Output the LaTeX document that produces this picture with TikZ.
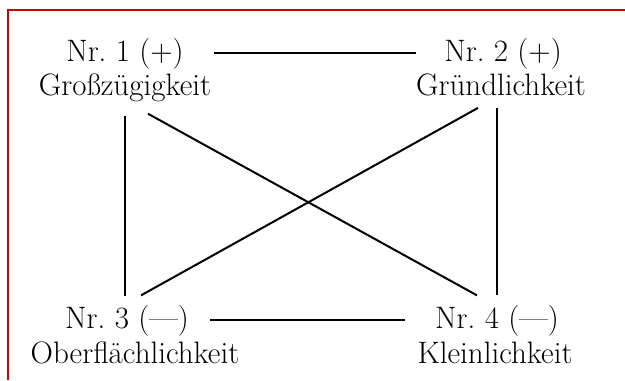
\documentclass[tikz,border=0pt]{standalone}
\usepackage{tikz}
\usetikzlibrary{positioning}
\definecolor{FrameRed}{RGB}{204,0,0}

\begin{document}
\begin{tikzpicture}[x=0.5pt,y=-0.5pt,every node/.style={font=\fontsize{15.5}{18}\selectfont,inner sep=0pt,anchor=base},
  link/.style={line width=1pt}]
\useasboundingbox (0,0) rectangle (625,380);
\draw[FrameRed,line width=1pt] (625,10) -- (8,10) -- (8,380);
\node (t1) at (125,61) {Nr.~1 (+)};
\node (l1) at (125,95) {Großzügigkeit};
\node (t2) at (503,61) {Nr.~2 (+)};
\node (l2) at (501,95) {Gründlichkeit};
\node (t3) at (127,328) {Nr.~3 (---)};
\node (l3) at (135,363) {Oberflächlichkeit};
\node (t4) at (497,328) {Nr.~4 (---)};
\node (l4) at (495,363) {Kleinlichkeit};
\draw[link,shorten <=15pt,shorten >=14pt] (t1) -- (t2);
\draw[link,shorten <=10.5pt,shorten >=15pt] (t3) -- (t4);
\draw[link,shorten <=7pt,shorten >=4pt] (l1.south) -- (l1.south |- t3.north);
\draw[link,shorten <=6pt,shorten >=4.5pt] (t4.north |- l2.south) -- (t4.north);
\draw[link] ([xshift=11.5pt,yshift=-6pt]l1.south) -- ([xshift=-10pt,yshift=4.5pt]t4.north);
\draw[link] ([xshift=-11.5pt,yshift=-6pt]l2.south) -- ([xshift=7pt,yshift=4.5pt]t3.north);
\end{tikzpicture}
\end{document}
